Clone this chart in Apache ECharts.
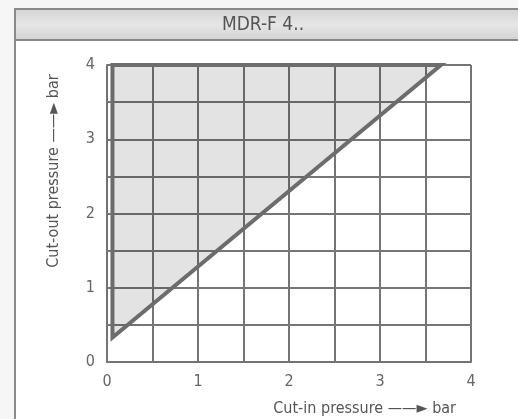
<!DOCTYPE html>
<html><head><meta charset="utf-8">
<script src="https://cdn.jsdelivr.net/npm/echarts@6/dist/echarts.min.js"></script>
<style>html,body{margin:0;padding:0;background:#f6f6f6;}#c{width:518px;height:419px;}</style>
</head><body><div id="c"></div>
<script>
const titleText = 'MDR-F 4..';
const xName = 'Cut-in pressure \u2014\u2014\u25BA bar';
const yName = 'Cut-out pressure \u2014\u2014\u25BA bar';
const axisMin = 0, axisMax = 4, gridStep = 0.5;
// polygon of the switching range: [cut-in, cut-out]
const regionX = [0.06, 0.06, 3.67];
const regionY = [0.33, 4.0, 4.0];

const FONT = '"Liberation Sans Narrow","DejaVu Sans Condensed",sans-serif';
const chart = echarts.init(document.getElementById('c'), null, {renderer:'canvas'});
const pts = regionX.map((x,i)=>[x, regionY[i]]);
const axisCommon = {
  type:'value', min:axisMin, max:axisMax, interval:gridStep,
  axisLine:{show:true, lineStyle:{color:'#737373', width:2}},
  axisTick:{show:false},
  splitLine:{show:true, lineStyle:{color:'#757575', width:2}},
  axisLabel:{color:'#666', fontSize:16, fontFamily:FONT,
    formatter:v=> (Math.abs(v-Math.round(v))<1e-9 ? String(Math.round(v)) : '')}
};
chart.setOption({
  animation:false,
  backgroundColor:'#f6f6f6',
  grid:{left:107, right:47, top:65, bottom:57},
  xAxis:Object.assign({}, axisCommon, {axisLabel:Object.assign({}, axisCommon.axisLabel, {margin:12})}),
  yAxis:Object.assign({}, axisCommon, {axisLabel:Object.assign({}, axisCommon.axisLabel, {margin:12})}),
  graphic:[
    {type:'rect', z:-10, shape:{x:15,y:9,width:520,height:420}, style:{fill:'#fff', stroke:'#8a8a8a', lineWidth:2}},
    {type:'rect', z:-9, shape:{x:16,y:10,width:510,height:30},
      style:{fill:new echarts.graphic.LinearGradient(0,0,0,1,[{offset:0,color:'#d6d6d6'},{offset:0.5,color:'#e6e6e6'},{offset:1,color:'#d2d2d2'}])}},
    {type:'line', z:-8, shape:{x1:16,y1:40,x2:518,y2:40}, style:{stroke:'#8a8a8a', lineWidth:2}},
    {type:'text', z:5, x:263, y:25, style:{text:titleText, fill:'#555', font:'19px '+FONT, align:'center', verticalAlign:'middle'}},
    {type:'text', z:5, x:456, y:409, style:{text:xName, fill:'#555', font:'16px '+FONT, align:'right', verticalAlign:'middle'}},
    {type:'text', z:5, x:54, y:171, rotation:Math.PI/2, style:{text:yName, fill:'#555', font:'16px '+FONT, align:'center', verticalAlign:'middle'}}
  ],
  series:[{
    type:'custom', data:pts,
    renderItem:(params, api)=>{
      if (params.dataIndex!==0) return null;
      const p = pts.map(d=>api.coord(d));
      return {type:'polygon', shape:{points:p},
        style:{fill:'rgba(0,0,0,0.11)', stroke:'#6c6c6c', lineWidth:4, lineJoin:'miter'}};
    }
  }]
});
</script></body></html>
